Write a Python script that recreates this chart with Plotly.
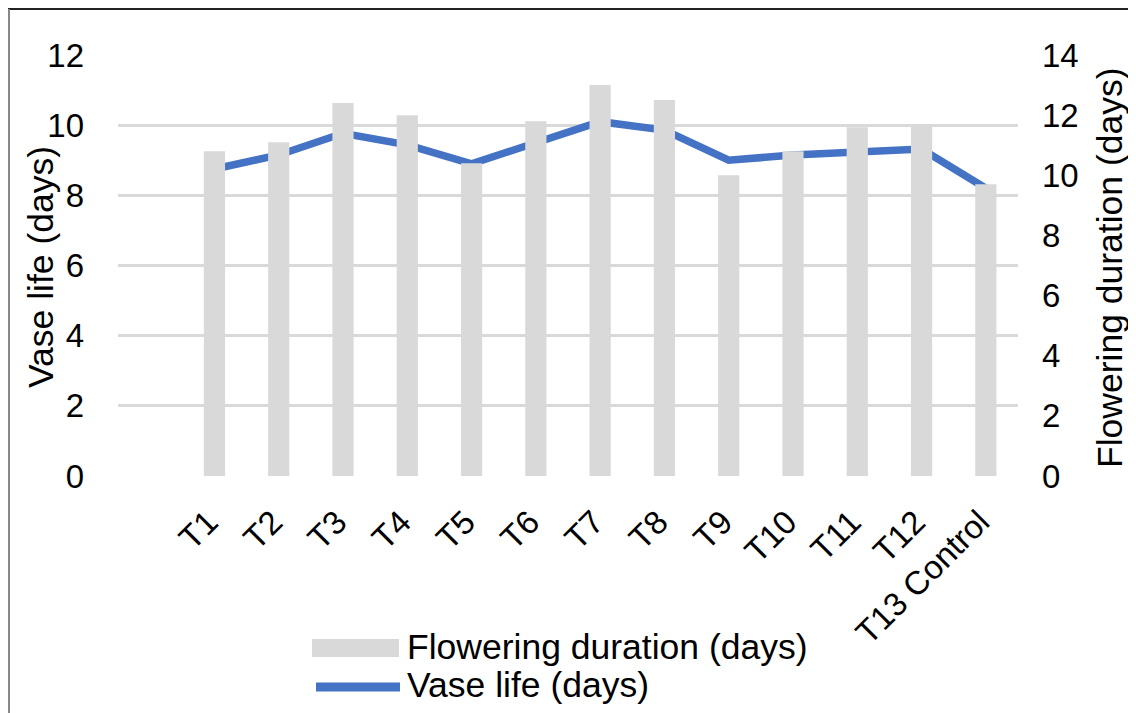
import plotly.graph_objects as go

categories = ["", "T1", "T2", "T3", "T4", "T5", "T6", "T7", "T8", "T9", "T10", "T11", "T12", "T13 Control"]
flowering_duration = [None, 10.8, 11.1, 12.4, 12.0, 10.4, 11.8, 13.0, 12.5, 10.0, 10.8, 11.6, 11.7, 9.7]
vase_life = [None, 8.75, 9.15, 9.77, 9.44, 8.9, 9.52, 10.1, 9.86, 9.0, 9.15, 9.25, 9.32, 8.2]
left_ticks = [0, 2, 4, 6, 8, 10, 12]
right_ticks = [0, 2, 4, 6, 8, 10, 12, 14]

# page has an 8px body margin: figure occupies page pixels 8..1136 x 8..713
OFF = 8
W, H = 1136 - OFF, 713 - OFF
L, R, T, B = 118 - OFF, 1018 - OFF, 55 - OFF, 476 - OFF
FONT = "Liberation Sans, Arial, sans-serif"
FS_TICK = 33
FS_TEXT = 35.5
GRID = "#d9d9d9"
BLUE = "#4472c4"


def px(x):  # page x -> paper
    return (x - OFF - L) / (R - L)


def py(y):  # page y -> paper
    return (B - (y - OFF)) / (B - T)


fig = go.Figure()
fig.add_trace(go.Bar(
    x=list(range(len(categories))), y=flowering_duration, name="Flowering duration (days)",
    marker=dict(color=GRID, line=dict(width=0)), width=0.33, yaxis="y2",
))
fig.add_trace(go.Scatter(
    x=list(range(len(categories))), y=vase_life, name="Vase life (days)", mode="lines",
    line=dict(color=BLUE, width=7.5), yaxis="y", connectgaps=False,
))

fig.update_layout(
    width=W, height=H,
    margin=dict(l=L, r=W - R, t=T, b=H - B, autoexpand=False),
    paper_bgcolor="white", plot_bgcolor="white",
    showlegend=False,
    font=dict(family=FONT, size=FS_TEXT, color="#000000"),
    xaxis=dict(
        tickmode="array", tickvals=list(range(len(categories))), ticktext=categories,
        range=[-0.5, len(categories) - 0.5], tickangle=-45,
        showgrid=False, zeroline=False, showline=False, ticks="",
        tickfont=dict(size=33, color="#000000"), automargin=False,
        ticklabelstandoff=19, ticklabelshift=-6,
    ),
    yaxis=dict(
        range=[0, 12], tickvals=left_ticks, showgrid=True, gridcolor=GRID, gridwidth=2.5,
        zeroline=False, showline=False, ticks="", automargin=False,
        tickfont=dict(size=FS_TICK, color="#000000"), ticklabelstandoff=33,
    ),
    yaxis2=dict(
        range=[0, 14], tickvals=right_ticks, overlaying="y", side="right",
        showgrid=False, zeroline=False, showline=False, ticks="", automargin=False,
        tickfont=dict(size=FS_TICK, color="#000000"), ticklabelstandoff=23,
    ),
)

# axis titles
fig.add_annotation(text="Vase life (days)", x=px(41), y=py(267), xref="paper", yref="paper",
                   textangle=-90, showarrow=False, font=dict(size=FS_TEXT), xanchor="center", yanchor="middle")
fig.add_annotation(text="Flowering duration (days)", x=px(1110), y=py(268), xref="paper", yref="paper",
                   textangle=-90, showarrow=False, font=dict(size=FS_TEXT), xanchor="center", yanchor="middle")

# legend (drawn)
fig.add_shape(type="rect", xref="paper", yref="paper", x0=px(312), x1=px(399), y0=py(657), y1=py(639),
              fillcolor=GRID, line=dict(width=0))
fig.add_shape(type="line", xref="paper", yref="paper", x0=px(316), x1=px(400), y0=py(687), y1=py(687),
              line=dict(color=BLUE, width=9))
fig.add_annotation(text="Flowering duration (days)", x=px(405), y=py(647), xref="paper", yref="paper",
                   showarrow=False, xanchor="left", yanchor="middle", font=dict(size=FS_TEXT))
fig.add_annotation(text="Vase life (days)", x=px(405), y=py(685), xref="paper", yref="paper",
                   showarrow=False, xanchor="left", yanchor="middle", font=dict(size=FS_TEXT))

# frame
fig.add_shape(type="line", xref="paper", yref="paper", x0=px(8), x1=px(1136), y0=py(9), y1=py(9),
              line=dict(color="#222222", width=2))
fig.add_shape(type="line", xref="paper", yref="paper", x0=px(9), x1=px(9), y0=py(9), y1=py(713),
              line=dict(color="#888888", width=2))

fig.write_html("out.html")
